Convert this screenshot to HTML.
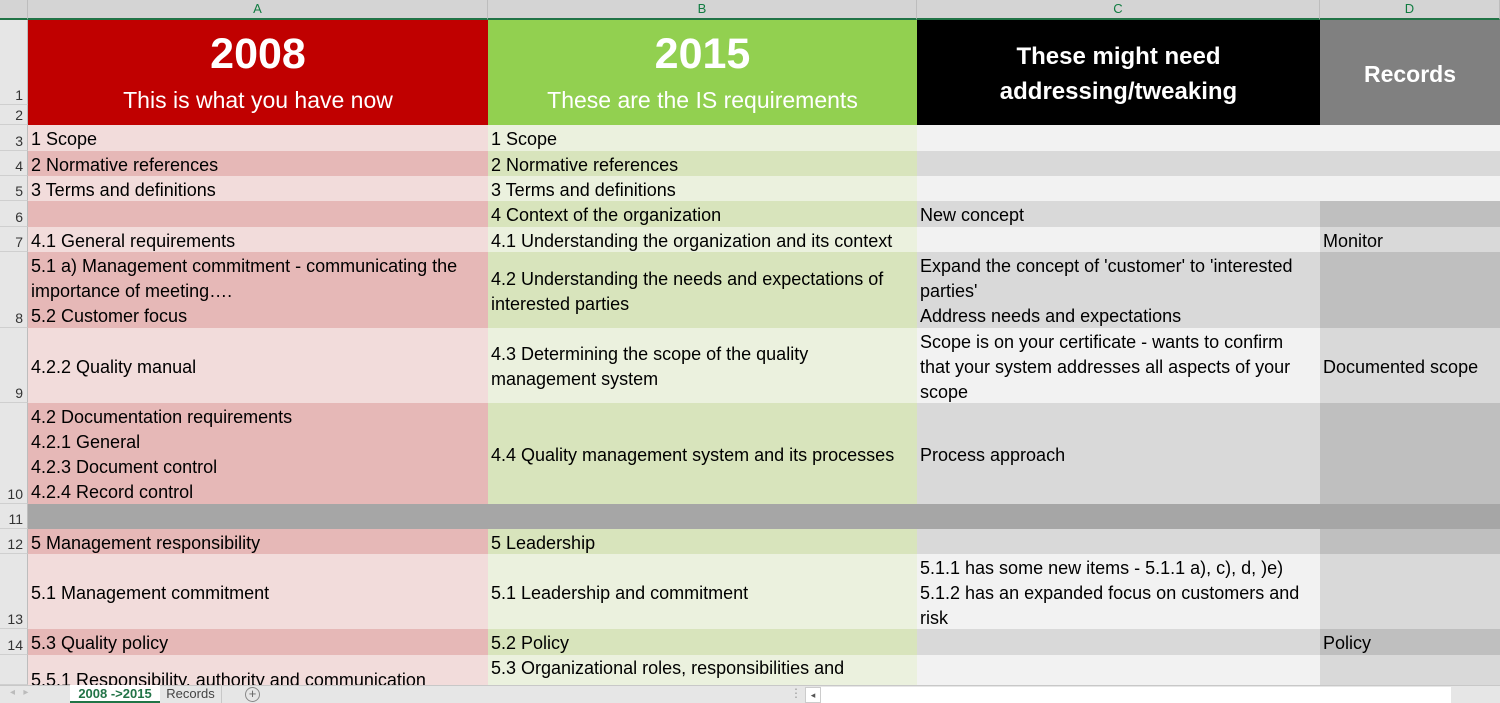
<!DOCTYPE html>
<html><head><meta charset="utf-8"><style>
*{margin:0;padding:0;box-sizing:border-box}
body{width:1500px;height:703px;overflow:hidden;position:relative;background:#fff;font-family:"Liberation Sans",sans-serif;}
.c{position:absolute;display:flex;align-items:center;white-space:nowrap;overflow:hidden;font-size:18px;line-height:25px;color:#000;padding-left:3px;padding-top:3px;}
.h{position:absolute;background:#D4D4D4;color:#107C41;font-size:13px;text-align:center;line-height:18px;border-right:1px solid #bdbdbd;border-bottom:2px solid #217346;}
.r{position:absolute;left:0;width:28px;background:#E6E6E6;border-bottom:1px solid #cfcfcf;border-right:1px solid #bdbdbd;font-size:14px;color:#333;display:flex;align-items:flex-end;justify-content:flex-end;padding:0 4px 1px 0;}
.hd{position:absolute;color:#fff;font-weight:bold;text-align:center;}
</style></head><body>
<div class="h" style="left:0;top:0;width:28px;height:20px;background:#D4D4D4"></div>
<div class="h" style="left:28px;top:0;width:460px;height:20px">A</div>
<div class="h" style="left:488px;top:0;width:429px;height:20px">B</div>
<div class="h" style="left:917px;top:0;width:403px;height:20px">C</div>
<div class="h" style="left:1320px;top:0;width:180px;height:20px">D</div>

<div class="r" style="top:20px;height:85px">1</div>
<div class="r" style="top:105px;height:20px">2</div>
<div class="r" style="top:125px;height:26px">3</div>
<div class="r" style="top:151px;height:25px">4</div>
<div class="r" style="top:176px;height:25px">5</div>
<div class="r" style="top:201px;height:26px">6</div>
<div class="r" style="top:227px;height:25px">7</div>
<div class="r" style="top:252px;height:76px">8</div>
<div class="r" style="top:328px;height:75px">9</div>
<div class="r" style="top:403px;height:101px">10</div>
<div class="r" style="top:504px;height:25px">11</div>
<div class="r" style="top:529px;height:25px">12</div>
<div class="r" style="top:554px;height:75px">13</div>
<div class="r" style="top:629px;height:26px">14</div>
<div class="r" style="top:655px;height:30px"></div>

<div style="position:absolute;left:28px;top:20px;width:460px;height:105px;background:#C00000"></div>
<div style="position:absolute;left:488px;top:20px;width:429px;height:105px;background:#92D050"></div>
<div style="position:absolute;left:917px;top:20px;width:403px;height:105px;background:#000"></div>
<div style="position:absolute;left:1320px;top:20px;width:180px;height:105px;background:#808080"></div>
<div class="hd" style="left:28px;width:460px;top:29px;font-size:43px;line-height:50px">2008</div>
<div class="hd" style="left:28px;width:460px;top:86px;font-size:23px;font-weight:normal;line-height:28px">This is what you have now</div>
<div class="hd" style="left:488px;width:429px;top:29px;font-size:43px;line-height:50px">2015</div>
<div class="hd" style="left:488px;width:429px;top:86px;font-size:23px;font-weight:normal;line-height:28px">These are the IS requirements</div>
<div class="hd" style="left:917px;width:403px;top:39px;font-size:24px;line-height:35px">These might need<br>addressing/tweaking</div>
<div class="hd" style="left:1320px;width:180px;top:58px;font-size:23px;line-height:32px">Records</div>

<div class="c" style="left:28px;top:125px;width:460px;height:26px;background:#F2DCDB">1 Scope</div>
<div class="c" style="left:488px;top:125px;width:429px;height:26px;background:#EBF1DE">1 Scope</div>
<div class="c" style="left:917px;top:125px;width:583px;height:26px;background:#F2F2F2"></div>
<div class="c" style="left:28px;top:151px;width:460px;height:25px;background:#E6B8B7">2 Normative references</div>
<div class="c" style="left:488px;top:151px;width:429px;height:25px;background:#D8E4BC">2 Normative references</div>
<div class="c" style="left:917px;top:151px;width:583px;height:25px;background:#D9D9D9"></div>
<div class="c" style="left:28px;top:176px;width:460px;height:25px;background:#F2DCDB">3 Terms and definitions</div>
<div class="c" style="left:488px;top:176px;width:429px;height:25px;background:#EBF1DE">3 Terms and definitions</div>
<div class="c" style="left:917px;top:176px;width:583px;height:25px;background:#F2F2F2"></div>
<div class="c" style="left:28px;top:201px;width:460px;height:26px;background:#E6B8B7"></div>
<div class="c" style="left:488px;top:201px;width:429px;height:26px;background:#D8E4BC">4 Context of the organization</div>
<div class="c" style="left:917px;top:201px;width:403px;height:26px;background:#D9D9D9">New concept</div>
<div class="c" style="left:1320px;top:201px;width:180px;height:26px;background:#BFBFBF"></div>
<div class="c" style="left:28px;top:227px;width:460px;height:25px;background:#F2DCDB">4.1 General requirements</div>
<div class="c" style="left:488px;top:227px;width:429px;height:25px;background:#EBF1DE">4.1 Understanding the organization and its context</div>
<div class="c" style="left:917px;top:227px;width:403px;height:25px;background:#F2F2F2"></div>
<div class="c" style="left:1320px;top:227px;width:180px;height:25px;background:#D9D9D9">Monitor</div>
<div class="c" style="left:28px;top:252px;width:460px;height:76px;background:#E6B8B7">5.1 a) Management commitment - communicating the<br>importance of meeting….<br>5.2 Customer focus</div>
<div class="c" style="left:488px;top:252px;width:429px;height:76px;background:#D8E4BC">4.2 Understanding the needs and expectations of<br>interested parties</div>
<div class="c" style="left:917px;top:252px;width:403px;height:76px;background:#D9D9D9">Expand the concept of 'customer' to 'interested<br>parties'<br>Address needs and expectations</div>
<div class="c" style="left:1320px;top:252px;width:180px;height:76px;background:#BFBFBF"></div>
<div class="c" style="left:28px;top:328px;width:460px;height:75px;background:#F2DCDB">4.2.2 Quality manual</div>
<div class="c" style="left:488px;top:328px;width:429px;height:75px;background:#EBF1DE">4.3 Determining the scope of the quality<br>management system</div>
<div class="c" style="left:917px;top:328px;width:403px;height:75px;background:#F2F2F2">Scope is on your certificate - wants to confirm<br>that your system addresses all aspects of your<br>scope</div>
<div class="c" style="left:1320px;top:328px;width:180px;height:75px;background:#D9D9D9">Documented scope</div>
<div class="c" style="left:28px;top:403px;width:460px;height:101px;background:#E6B8B7">4.2 Documentation requirements<br>4.2.1 General<br>4.2.3 Document control<br>4.2.4 Record control</div>
<div class="c" style="left:488px;top:403px;width:429px;height:101px;background:#D8E4BC">4.4 Quality management system and its processes</div>
<div class="c" style="left:917px;top:403px;width:403px;height:101px;background:#D9D9D9">Process approach</div>
<div class="c" style="left:1320px;top:403px;width:180px;height:101px;background:#BFBFBF"></div>
<div class="c" style="left:28px;top:504px;width:1472px;height:25px;background:#A6A6A6"></div>
<div class="c" style="left:28px;top:529px;width:460px;height:25px;background:#E6B8B7">5 Management responsibility</div>
<div class="c" style="left:488px;top:529px;width:429px;height:25px;background:#D8E4BC">5 Leadership</div>
<div class="c" style="left:917px;top:529px;width:403px;height:25px;background:#D9D9D9"></div>
<div class="c" style="left:1320px;top:529px;width:180px;height:25px;background:#BFBFBF"></div>
<div class="c" style="left:28px;top:554px;width:460px;height:75px;background:#F2DCDB">5.1 Management commitment</div>
<div class="c" style="left:488px;top:554px;width:429px;height:75px;background:#EBF1DE">5.1 Leadership and commitment</div>
<div class="c" style="left:917px;top:554px;width:403px;height:75px;background:#F2F2F2">5.1.1 has some new items - 5.1.1 a), c), d, )e)<br>5.1.2 has an expanded focus on customers and<br>risk</div>
<div class="c" style="left:1320px;top:554px;width:180px;height:75px;background:#D9D9D9"></div>
<div class="c" style="left:28px;top:629px;width:460px;height:26px;background:#E6B8B7">5.3 Quality policy</div>
<div class="c" style="left:488px;top:629px;width:429px;height:26px;background:#D8E4BC">5.2 Policy</div>
<div class="c" style="left:917px;top:629px;width:403px;height:26px;background:#D9D9D9"></div>
<div class="c" style="left:1320px;top:629px;width:180px;height:26px;background:#BFBFBF">Policy</div>
<div class="c" style="left:28px;top:655px;width:460px;height:30px;background:#F2DCDB;align-items:flex-start;padding-top:13px">5.5.1 Responsibility, authority and communication</div>
<div class="c" style="left:488px;top:655px;width:429px;height:30px;background:#EBF1DE;align-items:flex-start;padding-top:1px">5.3 Organizational roles, responsibilities and</div>
<div class="c" style="left:917px;top:655px;width:403px;height:30px;background:#F2F2F2"></div>
<div class="c" style="left:1320px;top:655px;width:180px;height:30px;background:#D9D9D9"></div>

<div style="position:absolute;left:0;top:685px;width:1500px;height:18px;background:#E6E6E6;border-top:1px solid #c8c8c8"></div>
<div style="position:absolute;left:10px;top:687px;font-size:10px;color:#bbb">◂ &nbsp; ▸</div>
<div style="position:absolute;left:70px;top:685px;width:90px;height:18px;background:#fff;color:#217346;font-weight:bold;font-size:13px;text-align:center;line-height:18px;border-bottom:2px solid #217346">2008 -&gt;2015</div>
<div style="position:absolute;left:160px;top:685px;width:62px;height:18px;color:#444;font-size:13px;text-align:center;line-height:18px;border-right:1px solid #c8c8c8">Records</div>
<div style="position:absolute;left:245px;top:687px;width:15px;height:15px;border:1px solid #888;border-radius:50%;font-size:13px;line-height:12px;text-align:center;color:#666">+</div>
<div style="position:absolute;left:790px;top:686px;font-size:12px;color:#999">⋮</div>
<div style="position:absolute;left:805px;top:687px;width:16px;height:16px;background:#fff;border:1px solid #ccc;font-size:9px;color:#555;line-height:14px;text-align:center">◂</div>
<div style="position:absolute;left:821px;top:687px;width:630px;height:16px;background:#fff"></div>
</body></html>
